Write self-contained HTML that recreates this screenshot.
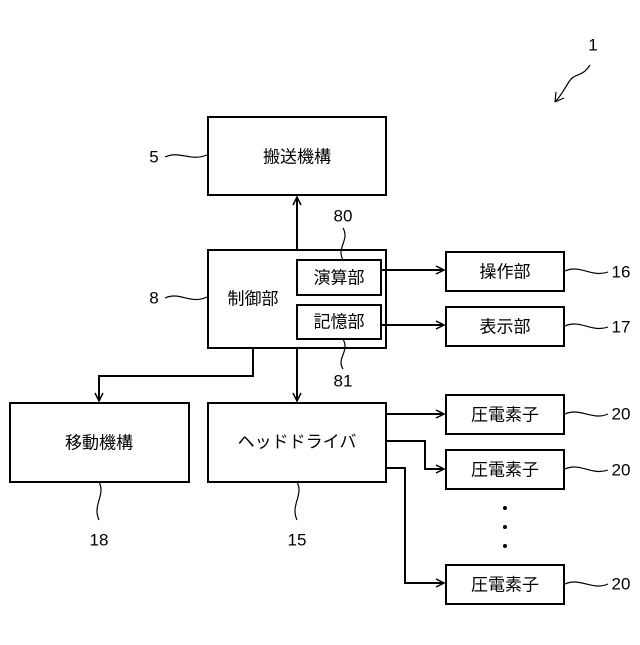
<!DOCTYPE html>
<html><head><meta charset="utf-8"><style>
body{margin:0;background:#fff}
svg text{font-family:"Liberation Sans","Noto Sans CJK JP",sans-serif;fill:#000}
</style></head><body>
<svg width="640" height="640" viewBox="0 0 640 640" xmlns="http://www.w3.org/2000/svg">
<defs><marker id="a" markerWidth="10" markerHeight="10" refX="9" refY="5" orient="auto" markerUnits="userSpaceOnUse"><path d="M1,1 L9,5 L1,9" fill="none" stroke="#000" stroke-width="1.5"/></marker></defs>
<g fill="none" stroke="#000" stroke-width="2">
<rect x="208" y="117" width="178" height="78"/>
<rect x="208" y="250" width="178" height="98"/>
<rect x="297" y="260" width="84" height="35"/>
<rect x="297" y="305" width="84" height="34"/>
<rect x="446" y="252" width="118" height="39"/>
<rect x="446" y="307" width="118" height="39"/>
<rect x="10" y="403" width="179" height="79"/>
<rect x="208" y="403" width="178" height="79"/>
<rect x="446" y="395" width="118" height="39"/>
<rect x="446" y="450" width="118" height="39"/>
<rect x="446" y="565" width="118" height="39"/>
</g>
<g fill="none" stroke="#000" stroke-width="2">
<path d="M297,250 V197" marker-end="url(#a)"/>
<path d="M297,348 V401" marker-end="url(#a)"/>
<path d="M253,348 V376 H99 V401" marker-end="url(#a)"/>
<path d="M381,270 H444" marker-end="url(#a)"/>
<path d="M381,325 H444" marker-end="url(#a)"/>
<path d="M386,414 H444" marker-end="url(#a)"/>
<path d="M386,441 H425 V469 H444" marker-end="url(#a)"/>
<path d="M386,468 H405 V583 H444" marker-end="url(#a)"/>
</g>
<g fill="none" stroke="#000" stroke-width="1.2">
<path d="M165,157 C180,150 190,162 207,155"/>
<path d="M165,298 C180,291 190,305 207,297"/>
<path d="M565,271 C580,264 592,278 608,272"/>
<path d="M565,326 C580,319 592,333 608,327"/>
<path d="M565,414 C580,407 592,421 608,414"/>
<path d="M565,469 C580,462 592,476 608,470"/>
<path d="M565,584 C580,577 592,591 608,584"/>
<path d="M343,228 C350,240 336,248 343,260"/>
<path d="M343,339 C350,352 336,358 343,369"/>
<path d="M99,482 C106,495 92,505 99,520"/>
<path d="M297,482 C304,495 290,505 297,520"/>
<path d="M590,65 C580,80 575,70 567,85 C562,93 560,97 555,102"/>
<path d="M555,102 L556,92 M555,102 L564,98"/>
</g>
<g fill="#000"><circle cx="505" cy="508" r="2"/><circle cx="505" cy="527" r="2"/><circle cx="505" cy="546" r="2"/></g>
<g font-size="17" text-anchor="middle" dominant-baseline="central">
<text x="297" y="157">搬送機構</text>
<text x="253" y="299">制御部</text>
<text x="339" y="278">演算部</text>
<text x="339" y="322">記憶部</text>
<text x="505" y="272">操作部</text>
<text x="505" y="327">表示部</text>
<text x="99" y="443">移動機構</text>
<text x="297" y="442">ヘッドドライバ</text>
<text x="505" y="415">圧電素子</text>
<text x="505" y="470">圧電素子</text>
<text x="505" y="585">圧電素子</text>
</g>
<g font-size="17" text-anchor="middle" dominant-baseline="central">
<text x="593" y="45">1</text>
<text x="154" y="157">5</text>
<text x="154" y="298">8</text>
<text x="621" y="272">16</text>
<text x="621" y="327">17</text>
<text x="621" y="414">20</text>
<text x="621" y="470">20</text>
<text x="621" y="584">20</text>
<text x="343" y="216">80</text>
<text x="343" y="381">81</text>
<text x="99" y="540">18</text>
<text x="297" y="540">15</text>
</g>
</svg>
</body></html>
